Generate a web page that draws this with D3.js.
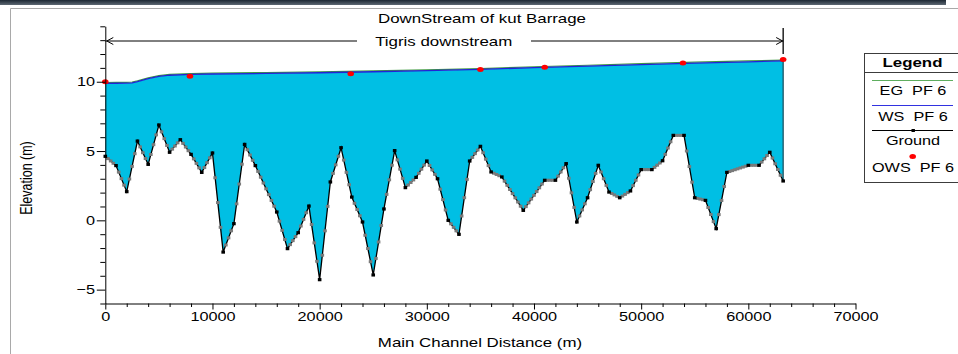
<!DOCTYPE html>
<html>
<head>
<meta charset="utf-8">
<script src="https://cdn.jsdelivr.net/npm/d3@7"></script>
<style>
  body { margin: 0; background: #fff; }
  svg { display: block; font-family: "Liberation Sans", Arial, sans-serif; }
  text { white-space: pre; }
</style>
</head>
<body>
<svg id="chart" width="958" height="354"></svg>
<script>
'use strict'

// surveyed cross sections (black squares) - station (m) / bed elevation (m)
var groundStation = [0,1000,2000,3000,4000,5000,6000,7000,8000,9000,10000,11000,12000,13000,14000,16000,
  17000,18000,19000,20000,21000,22000,23000,24000,25000,26000,27000,28000,29000,30000,31000,32000,33000,
  34000,35000,36000,37000,39000,41000,42000,43000,44000,45000,46000,47000,48000,49000,50000,51000,52000,
  53000,54000,55000,56000,57000,58000,60000,61000,62000,63250]
var groundElev = [4.62,3.95,2.07,5.72,4.04,6.88,4.91,5.82,4.76,3.46,4.86,-2.29,-0.24,5.48,3.95,0.6,
  -2.04,-0.89,1.03,-4.28,2.77,5.24,1.68,-0.12,-3.94,0.82,5.03,2.36,3.1,4.28,3.0,0.0,-1.01,
  4.28,5.34,3.49,3.13,0.72,2.89,2.89,4.09,-0.12,1.63,3.97,2.04,1.63,2.12,3.66,3.66,4.3,
  6.13,6.13,1.63,1.44,-0.6,3.46,3.97,3.97,4.91,2.84]

// water surface and energy grade, PF 6
var wsStation = [0,1000,2000,2500,3000,4000,5000,6000,8000,10000,15000,20000,25000,30000,35000,40000,45000,50000,55000,60000,63250]
var wsElev    = [9.88,9.89,9.9,9.92,10.0,10.22,10.38,10.47,10.53,10.56,10.6,10.65,10.72,10.8,10.89,11.02,11.13,11.24,11.35,11.44,11.5]
var egElev    = [9.94,9.95,9.96,9.98,10.06,10.28,10.44,10.53,10.59,10.62,10.66,10.71,10.78,10.86,10.95,11.08,11.19,11.3,11.41,11.5,11.56]

// observed water surface
var owsStation = [0,7900,22900,35000,41000,53900,63250]
var owsElev    = [10.0,10.39,10.58,10.89,11.04,11.35,11.6]

// HEC-RAS interpolated sections every 250 m (gray squares)
var interpStep = 250

var xTicks = [0,10000,20000,30000,40000,50000,60000,70000]
var yTicks = [-5,0,5,10]
var legendItems = ['EG  PF 6','WS  PF 6','Ground','OWS  PF 6']

var SX = 1.25  // the screenshot is stretched sideways

var svg = d3.select('#chart')

var x = d3.scaleLinear().domain([0,70000]).range([105.3,855.5])
var y = d3.scaleLinear().domain([-6,14]).range([303.5,26.3])

function stext(parent, px, py, str, size, anchor, weight){
  return parent.append('text')
    .attr('transform','translate(' + px + ',' + py + ') scale(' + SX + ',1)')
    .attr('text-anchor', anchor || 'middle')
    .style('font-size', size + 'px')
    .style('font-weight', weight || 'normal')
    .attr('fill','#000')
    .text(str)
}

// window chrome
var grad = svg.append('defs').append('linearGradient').attr('id','bar').attr('x1',0).attr('x2',0).attr('y1',0).attr('y2',1)
grad.append('stop').attr('offset','0%').attr('stop-color','#1c2733')
grad.append('stop').attr('offset','100%').attr('stop-color','#5d6873')
svg.append('rect').attr('x',0).attr('y',0).attr('width',946).attr('height',5).attr('fill','url(#bar)')
svg.append('path').attr('d','M10.5,360 V8.5 H960').attr('fill','none').attr('stroke','#a9a9a9')

var ground = groundStation.map((s,i) => ({s:s, e:groundElev[i]}))
var ws = wsStation.map((s,i) => ({s:s, e:wsElev[i]}))
var eg = wsStation.map((s,i) => ({s:s, e:egElev[i]}))
var ows = owsStation.map((s,i) => ({s:s, e:owsElev[i]}))

var line = d3.line().x(d => x(d.s)).y(d => y(d.e))

// water between water surface and bed
var water = ws.concat(ground.slice().reverse())
svg.append('path')
  .attr('d', line(water) + 'Z')
  .attr('fill','#00bfe4')

var last = ground[ground.length-1]
svg.append('line')
  .attr('x1',x(last.s)).attr('x2',x(last.s))
  .attr('y1',y(wsElev[wsElev.length-1])).attr('y2',y(last.e))
  .attr('stroke','#1d5563').attr('stroke-width',1.3)

svg.append('path').attr('d',line(eg)).attr('fill','none').attr('stroke','#3f9a3f').attr('stroke-width',1.2)
svg.append('path').attr('d',line(ws)).attr('fill','none').attr('stroke','#2323d6').attr('stroke-width',1.3)
svg.append('path').attr('d',line(ground)).attr('fill','none').attr('stroke','#000').attr('stroke-width',1.3)

// interpolated sections along each reach
var interp = []
for (let i = 0; i < ground.length-1; i++){
  let a = ground[i], b = ground[i+1]
  let f = d3.interpolateNumber(a.e, b.e)
  for (let s = a.s + interpStep; s < b.s - 1; s += interpStep){
    interp.push({s:s, e:f((s - a.s)/(b.s - a.s))})
  }
}
svg.append('g').selectAll('rect')
  .data(interp).enter().append('rect')
  .attr('x', d => x(d.s) - 1.8).attr('y', d => y(d.e) - 1.5)
  .attr('width',3.6).attr('height',3)
  .attr('fill','#7a7a7a')

svg.append('g').selectAll('rect')
  .data(ground).enter().append('rect')
  .attr('x', d => x(d.s) - 1.8).attr('y', d => y(d.e) - 1.6)
  .attr('width',3.6).attr('height',3.2)
  .attr('fill','#000')

svg.append('g').selectAll('ellipse')
  .data(ows).enter().append('ellipse')
  .attr('cx', d => x(d.s)).attr('cy', d => y(d.e))
  .attr('rx',3.3).attr('ry',2.5)
  .attr('fill','#ff0000')

// axes
var yAxis = svg.append('g').attr('transform','translate(' + x(0) + ',0)')
  .call(d3.axisLeft(y).tickValues(yTicks).tickSize(8.5).tickSizeOuter(0).tickPadding(2))
yAxis.selectAll('text').attr('x', -10.3/SX).attr('transform','scale(' + SX + ',1)').style('font-size','13px').attr('fill','#000')
svg.append('g').attr('transform','translate(' + x(0) + ',0)')
  .call(d3.axisLeft(y).tickValues(d3.range(-6,15).filter(v => v % 5 != 0)).tickSize(5).tickSizeOuter(0).tickFormat(''))
  .select('.domain').remove()

var xAxis = svg.append('g').attr('transform','translate(0,' + y(-6) + ')')
  .call(d3.axisBottom(x).tickValues(xTicks).tickSize(6).tickSizeOuter(0).tickPadding(2).tickFormat(d3.format('d')))
xAxis.selectAll('text').attr('transform','scale(' + SX + ',1)').style('font-size','13px').attr('fill','#000')
svg.append('g').attr('transform','translate(0,' + y(-6) + ')')
  .call(d3.axisBottom(x).tickValues(d3.range(0,70001,2000).filter(v => v % 10000 != 0)).tickSize(3.5).tickSizeOuter(0).tickFormat(''))
  .select('.domain').remove()
svg.selectAll('.domain, .tick line').attr('stroke','#000')
svg.selectAll('.tick text').style('font-family','"Liberation Sans", Arial, sans-serif')

stext(svg, 480, 346.5, 'Main Channel Distance (m)', 13.5)
svg.append('text')
  .attr('transform','translate(32,178) scale(' + SX + ',1) rotate(-90)')
  .attr('text-anchor','middle')
  .style('font-size','12.5px')
  .text('Elevation (m)')

// title and reach marker
stext(svg, 482, 22.8, 'DownStream of kut Barrage', 13.5)
stext(svg, 443.7, 45.6, 'Tigris downstream', 13.5)
var xe = x(last.s)
svg.append('line').attr('x1',x(0)).attr('x2',357).attr('y1',41).attr('y2',41).attr('stroke','#000')
svg.append('line').attr('x1',531).attr('x2',xe).attr('y1',41).attr('y2',41).attr('stroke','#000')
svg.append('path').attr('d','M' + (x(0)+8) + ',37.5 L' + (x(0)+1.5) + ',41 L' + (x(0)+8) + ',44.5').attr('fill','none').attr('stroke','#000')
svg.append('path').attr('d','M' + (xe-7) + ',37.5 L' + (xe-0.5) + ',41 L' + (xe-7) + ',44.5').attr('fill','none').attr('stroke','#000')
svg.append('line').attr('x1',xe).attr('x2',xe).attr('y1',28).attr('y2',54).attr('stroke','#000').attr('stroke-width',1.3)

// legend
var lg = svg.append('g')
lg.append('rect').attr('x',864.5).attr('y',53.5).attr('width',100).attr('height',129).attr('fill','#fff').attr('stroke','#3c3c3c')
lg.append('line').attr('x1',864.5).attr('x2',960).attr('y1',72.5).attr('y2',72.5).attr('stroke','#3c3c3c')
stext(lg, 912.5, 66.5, 'Legend', 13.5, 'middle', 'bold')
lg.append('line').attr('x1',872).attr('x2',953).attr('y1',80.5).attr('y2',80.5).attr('stroke','#5fae5f')
lg.append('line').attr('x1',872).attr('x2',953).attr('y1',105.5).attr('y2',105.5).attr('stroke','#3232e0')
lg.append('line').attr('x1',872).attr('x2',953).attr('y1',130.5).attr('y2',130.5).attr('stroke','#000')
lg.append('rect').attr('x',911.5).attr('y',129).attr('width',3.4).attr('height',3).attr('fill','#000')
lg.append('ellipse').attr('cx',912.7).attr('cy',156.5).attr('rx',3.3).attr('ry',2.5).attr('fill','#ff0000')
var ly = [95, 121, 145, 171.5]
legendItems.forEach((t,i) => stext(lg, 913, ly[i], t, 13, 'middle'))
</script>
</body>
</html>
